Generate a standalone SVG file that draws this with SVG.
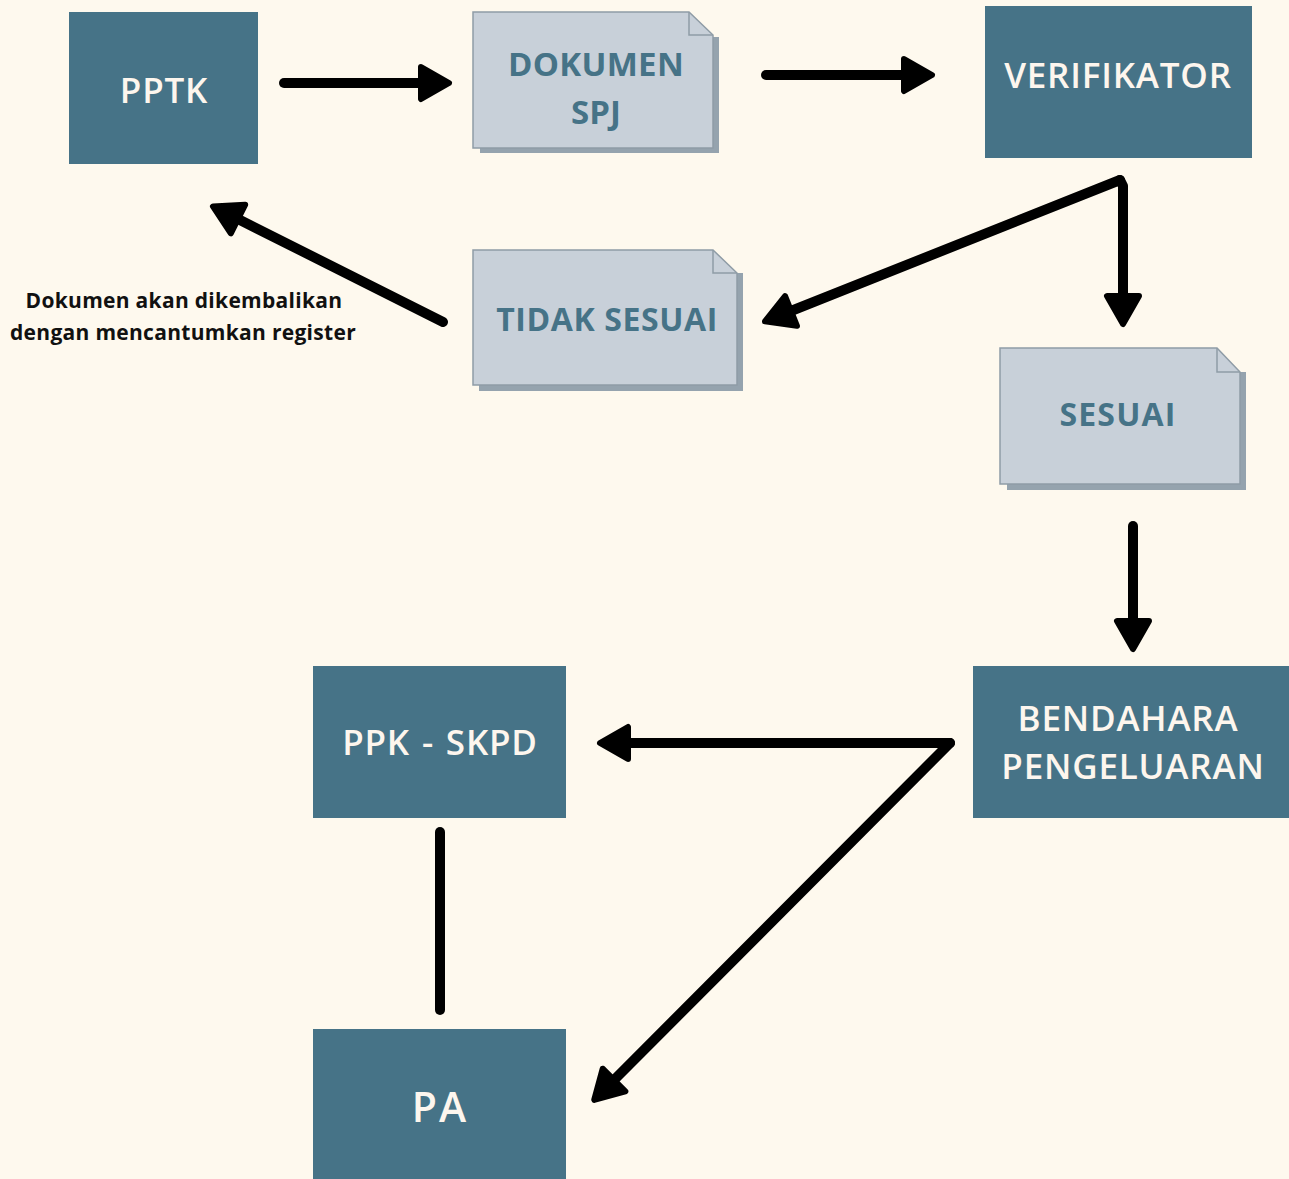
<svg xmlns="http://www.w3.org/2000/svg" width="1289" height="1179" viewBox="0 0 1289 1179">
<style>
.box{fill:#467387}
.bt{fill:#fdf6ee;font-family:"Open Sans","Lato",sans-serif;font-weight:600;text-anchor:middle;font-size:35px;letter-spacing:0.8px}
.doc{fill:#c8d0d9;stroke:#8f9ca6;stroke-width:1.5}
.sh{fill:#95a3ae}
.fold{fill:none;stroke:#8f9ca6;stroke-width:1.5}
.dt{fill:#467387;font-family:"Open Sans","Lato",sans-serif;font-weight:700;text-anchor:middle}
.con{fill:none;stroke:#000;stroke-width:10;stroke-linecap:round;stroke-linejoin:round}
.lbl{fill:#111;font-family:"Open Sans","Lato",sans-serif;font-weight:700;font-size:21px;letter-spacing:0.3px;text-anchor:middle}
</style>
<defs>
<marker id="ah" markerUnits="userSpaceOnUse" viewBox="-5 -22 40 44" markerWidth="40" markerHeight="44" refX="0" refY="0" orient="auto">
<path d="M0,-16 L28,0 L0,16 Z" fill="#000" stroke="#000" stroke-width="6" stroke-linejoin="round"/>
</marker>
</defs>
<rect width="1289" height="1179" fill="#fef9ee"/>

<g id="pptk"><rect class="box" x="69" y="12" width="189" height="152"/><text class="bt" x="164" y="103">PPTK</text></g>

<g id="dokumen-spj">
<path class="sh" d="M480,37 L719,37 L719,153 L480,153 Z"/>
<path class="doc" d="M473,12 L689,12 L713,35 L713,148 L473,148 Z"/>
<path class="fold" d="M689,12 L689,35 L713,35"/>
<text class="dt" x="596" y="76" font-size="33" letter-spacing="0.3">DOKUMEN</text>
<text class="dt" x="596" y="124" font-size="33">SPJ</text>
</g>

<g id="verifikator"><rect class="box" x="985" y="6" width="267" height="152"/><text class="bt" x="1118" y="88">VERIFIKATOR</text></g>

<g id="tidak-sesuai">
<path class="sh" d="M479,273 L743,273 L743,391 L479,391 Z"/>
<path class="doc" d="M473,250 L713,250 L737,273 L737,385 L473,385 Z"/>
<path class="fold" d="M713,250 L713,273 L737,273"/>
<text class="dt" x="607" y="331" font-size="32" letter-spacing="0.6">TIDAK SESUAI</text>
</g>

<g id="sesuai">
<path class="sh" d="M1007,372 L1246,372 L1246,490 L1007,490 Z"/>
<path class="doc" d="M1000,348 L1217,348 L1240,372 L1240,484 L1000,484 Z"/>
<path class="fold" d="M1217,348 L1217,372 L1240,372"/>
<text class="dt" x="1118" y="426" font-size="32" letter-spacing="1.2">SESUAI</text>
</g>

<g id="bendahara"><rect class="box" x="973" y="666" width="316" height="152"/>
<text class="bt" x="1128" y="731">BENDAHARA</text>
<text class="bt" x="1133" y="779">PENGELUARAN</text></g>

<g id="ppk-skpd"><rect class="box" x="313" y="666" width="253" height="152"/><text class="bt" x="440" y="755" word-spacing="2">PPK - SKPD</text></g>

<g id="pa"><rect class="box" x="313" y="1029" width="253" height="150"/><text class="bt" x="440" y="1122" style="font-size:41px;letter-spacing:2px">PA</text></g>

<g id="label"><text class="lbl" x="184" y="308">Dokumen akan dikembalikan</text><text class="lbl" x="183" y="340">dengan mencantumkan register</text></g>

<g id="connectors">
<path class="con" d="M284,83 L421,83" marker-end="url(#ah)"/>
<path class="con" d="M766,75 L904,75" marker-end="url(#ah)"/>
<path class="con" d="M1120,180 L791,311" marker-end="url(#ah)"/>
<path class="con" d="M1120,180 L1123,186 L1123,296" marker-end="url(#ah)"/>
<path class="con" d="M443,322 L238,219" marker-end="url(#ah)"/>
<path class="con" d="M1133,526 L1133,621" marker-end="url(#ah)"/>
<path class="con" d="M950,743 L628,743" marker-end="url(#ah)"/>
<path class="con" d="M950,743 L614,1080" marker-end="url(#ah)"/>
<path class="con" d="M440,832 L440,1010"/>
</g>
</svg>
